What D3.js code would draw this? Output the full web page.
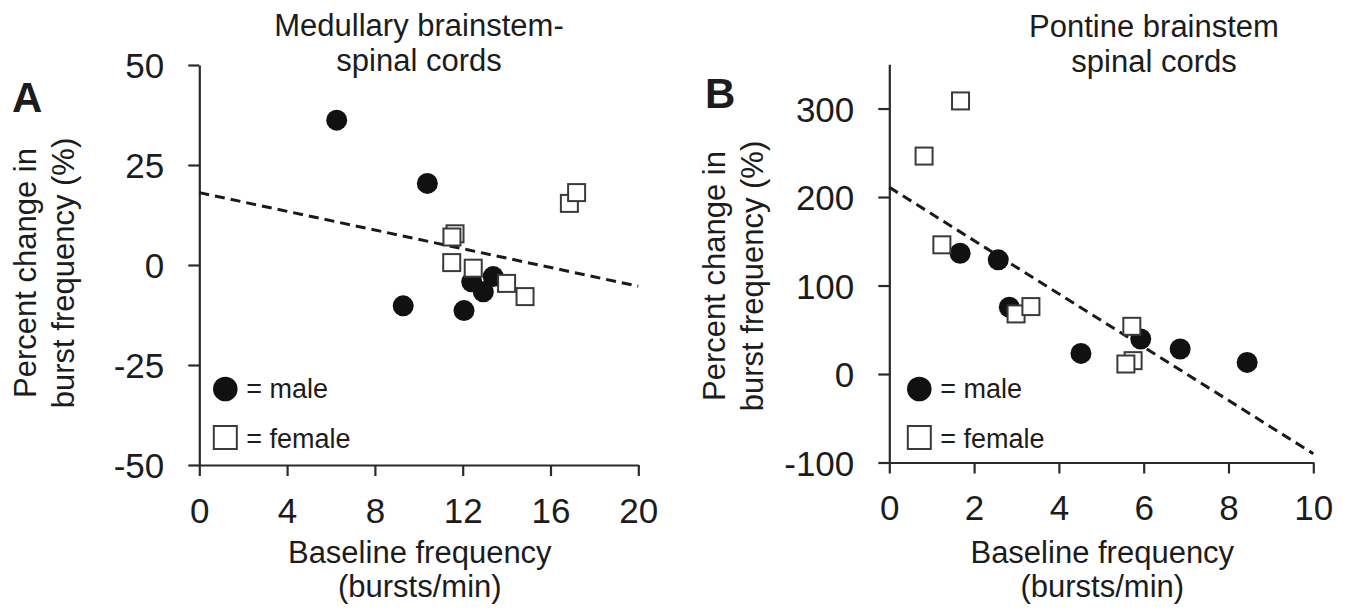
<!DOCTYPE html>
<html>
<head>
<meta charset="utf-8">
<script src="https://cdn.jsdelivr.net/npm/d3@7"></script>
<style>
  body { margin: 0; background: #fff; }
  svg { display: block; }
</style>
</head>
<body>
<div id="chart"></div>
<script>
// Panel A: medullary brainstem-spinal cords  [baseline freq, % change]
const maleA = [[6.26, 36.2], [10.39, 20.4], [9.29, -10.2], [12.06, -11.4], [12.41, -4.2], [12.94, -6.7], [13.39, -2.9]];
const femaleA = [[11.65, 7.8], [11.51, 7.0], [11.5, 0.6], [12.48, -0.8], [14.0, -4.6], [14.84, -7.9], [16.86, 15.4], [17.19, 18.1]];
const fitA = [[0, 18.1], [20, -5.3]];
const xTicksA = [0, 4, 8, 12, 16, 20];
const yTicksA = [-50, -25, 0, 25, 50];

// Panel B: pontine brainstem spinal cords
const maleB = [[1.67, 136.5], [2.57, 129], [2.83, 75.4], [4.52, 23.3], [5.93, 39.6], [6.86, 28.3], [8.44, 13.1]];
const femaleB = [[0.82, 246.3], [1.68, 308.6], [1.24, 146], [2.99, 67.9], [3.34, 76.2], [5.72, 53.9], [5.75, 15.1], [5.58, 11.3]];
const fitB = [[0, 211], [10, -90]];
const xTicksB = [0, 2, 4, 6, 8, 10];
const yTicksB = [-100, 0, 100, 200, 300];

const FONT = "'Liberation Sans', Arial, Helvetica, sans-serif";
const INK = "#1c1c1c";

const svg = d3.select('#chart').append('svg')
    .attr('width', 1355)
    .attr('height', 612)
    .style('font-family', FONT);

svg.append('rect').attr('width', 1355).attr('height', 612).attr('fill', '#fff');

function addText(x, y, str, size, anchor, weight) {
    return svg.append('text')
        .attr('x', x)
        .attr('y', y)
        .attr('text-anchor', anchor || 'middle')
        .attr('font-size', size)
        .attr('font-weight', weight || 'normal')
        .attr('fill', INK)
        .text(str);
}

function drawPanel(p) {
    const x = d3.scaleLinear().domain(p.xDomain).range(p.xRange);
    const y = d3.scaleLinear().domain(p.yDomain).range(p.yRange);

    // axes (plain hyphen for negatives, like the figure)
    const yAxis = svg.append('g')
        .attr('transform', `translate(${p.xRange[0]},0)`)
        .call(d3.axisLeft(y).tickValues(p.yTicks).tickFormat(d => String(d))
            .tickSize(11).tickSizeOuter(0).tickPadding(24));
    const xAxis = svg.append('g')
        .attr('transform', `translate(0,${p.yRange[0]})`)
        .call(d3.axisBottom(x).tickValues(p.xTicks).tickFormat(d => String(d))
            .tickSize(11).tickSizeOuter(0).tickPadding(22));

    [xAxis, yAxis].forEach(function(ax) {
        ax.attr('font-family', FONT).attr('font-size', 35);
        ax.select('.domain').attr('stroke', '#2a2a2a').attr('stroke-width', 2.2);
        ax.selectAll('.tick line').attr('stroke', '#2a2a2a').attr('stroke-width', 2.2);
        ax.selectAll('.tick text').attr('fill', INK);
    });
    yAxis.selectAll('.tick text').attr('dy', '0.36em');

    // regression line
    svg.append('path')
        .datum(p.fit)
        .attr('d', d3.line().x(d => x(d[0])).y(d => y(d[1])))
        .attr('fill', 'none')
        .attr('stroke', '#1a1a1a')
        .attr('stroke-width', 3)
        .attr('stroke-dasharray', '10,6');

    // males
    svg.append('g').selectAll('circle')
        .data(p.male)
        .enter().append('circle')
        .attr('cx', d => x(d[0]))
        .attr('cy', d => y(d[1]))
        .attr('r', 10.5)
        .attr('fill', '#111');

    // females
    const s = 17;
    svg.append('g').selectAll('rect')
        .data(p.female)
        .enter().append('rect')
        .attr('x', d => x(d[0]) - s / 2)
        .attr('y', d => y(d[1]) - s / 2)
        .attr('width', s)
        .attr('height', s)
        .attr('fill', '#fff')
        .attr('stroke', '#3a3a3a')
        .attr('stroke-width', 2);

    // legend
    const lx = p.xRange[0] + p.legendDx;
    svg.append('circle').attr('cx', lx).attr('cy', 389).attr('r', 12.3).attr('fill', '#111');
    svg.append('rect').attr('x', lx - 11.5).attr('y', 426).attr('width', 23).attr('height', 23)
        .attr('fill', '#fff').attr('stroke', '#3a3a3a').attr('stroke-width', 2);
    addText(lx + 21, 398, '= male', 27, 'start');
    addText(lx + 21, 448, '= female', 27, 'start');

    // titles
    addText(p.titleX, p.titleY, p.title[0], 31);
    addText(p.titleX, p.titleY + 35, p.title[1], 31);

    // panel letter
    addText(p.letterX, p.letterY, p.letter, 42, 'start', 'bold');

    // x title
    const xc = (p.xRange[0] + p.xRange[1]) / 2;
    addText(xc + 1, 563, 'Baseline frequency', 31);
    addText(xc + 1, 597, '(bursts/min)', 31);

    // y title
    svg.append('text')
        .attr('transform', `translate(${p.yTitleX},${p.yTitleY}) rotate(-90)`)
        .attr('text-anchor', 'middle').attr('font-size', 31).attr('fill', INK)
        .text('Percent change in');
    svg.append('text')
        .attr('transform', `translate(${p.yTitleX + 38},${p.yTitleY}) rotate(-90)`)
        .attr('text-anchor', 'middle').attr('font-size', 31).attr('fill', INK)
        .text('burst frequency (%)');
}

drawPanel({
    xDomain: [0, 20], xRange: [199.3, 638.3],
    yDomain: [-50, 50], yRange: [465, 65],
    xTicks: xTicksA, yTicks: yTicksA,
    male: maleA, female: femaleA, fit: fitA,
    legendDx: 26,
    title: ['Medullary brainstem-', 'spinal cords'], titleX: 419, titleY: 36,
    letter: 'A', letterX: 12, letterY: 112,
    yTitleX: 36, yTitleY: 273
});

drawPanel({
    xDomain: [0, 10], xRange: [889.3, 1313.3],
    yDomain: [-100, 350], yRange: [462.5, 64.3],
    xTicks: xTicksB, yTicks: yTicksB,
    male: maleB, female: femaleB, fit: fitB,
    legendDx: 30,
    title: ['Pontine brainstem', 'spinal cords'], titleX: 1154, titleY: 37,
    letter: 'B', letterX: 705, letterY: 108,
    yTitleX: 725, yTitleY: 276
});
</script>
</body>
</html>
